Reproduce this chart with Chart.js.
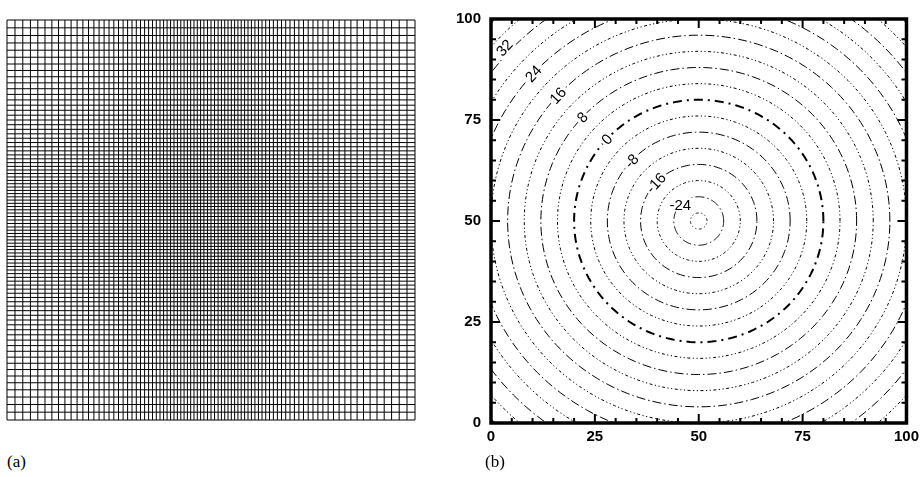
<!DOCTYPE html>
<html>
<head>
<meta charset="utf-8">
<script src="https://cdn.jsdelivr.net/npm/chart.js@4/dist/chart.umd.min.js"></script>
<style>
  html, body { margin: 0; padding: 0; background: #fff; }
  body { width: 924px; height: 477px; position: relative; overflow: hidden; }
  .box { position: absolute; }
  .tag { position: absolute; font-family: "Liberation Serif", "DejaVu Serif", serif; font-size: 17px; color: #000; }
</style>
</head>
<body>
<div class="box" style="left:5px; top:18px; width:412px; height:404px;"><canvas id="mesh" width="412" height="404"></canvas></div>
<div class="box" style="left:440px; top:0px; width:484px; height:477px;"><canvas id="cont" width="484" height="477"></canvas></div>
<div class="tag" style="left:7px; top:452px;">(a)</div>
<div class="tag" style="left:485px; top:452px;">(b)</div>
<script>
// ---------- data ----------
// (a) mesh line positions (0..100 across the panel), clustered towards the centre
const xMesh = [0,1.96,3.87,5.74,7.55,9.31,11.0,12.62,14.19,15.71,17.18,18.6,19.98,21.3,22.57,23.8,25.0,26.18,27.33,28.46,29.56,30.64,31.69,32.72,33.73,34.71,35.66,36.59,37.5,38.38,39.24,40.1,40.93,41.76,42.6,43.4,44.21,45.02,45.83,46.64,47.45,48.26,49.13,50,50.87,51.74,52.55,53.36,54.17,54.98,55.79,56.6,57.4,58.24,59.07,59.9,60.76,61.62,62.5,63.41,64.34,65.29,66.27,67.28,68.31,69.36,70.44,71.54,72.67,73.82,75.0,76.2,77.43,78.7,80.02,81.4,82.82,84.29,85.81,87.38,89.0,90.69,92.45,94.26,96.13,98.04,100];
const yMesh = [0,1.96,3.87,5.74,7.55,9.31,11.0,12.62,14.19,15.71,17.18,18.6,19.98,21.3,22.57,23.8,25.0,26.18,27.33,28.46,29.56,30.64,31.69,32.72,33.73,34.71,35.66,36.59,37.5,38.38,39.24,40.1,40.93,41.76,42.6,43.4,44.21,45.02,45.83,46.64,47.45,48.26,49.13,50,50.87,51.74,52.55,53.36,54.17,54.98,55.79,56.6,57.4,58.24,59.07,59.9,60.76,61.62,62.5,63.41,64.34,65.29,66.27,67.28,68.31,69.36,70.44,71.54,72.67,73.82,75.0,76.2,77.43,78.7,80.02,81.4,82.82,84.29,85.81,87.38,89.0,90.69,92.45,94.26,96.13,98.04,100];

// (b) contour field: circles round the centre, level 0 at radius 30
const contourLevels = [-28,-24,-20,-16,-12,-8,-4,0,4,8,12,16,20,24,28,32,36,40];
const labeledLevels = [32,24,16,8,0,-8,-16,-24];
const centreXY = [50,50];
const zeroRadius = 30;
const labelAngleDeg = 137.5;
const axisTicks = [0,25,50,75,100];

// ---------- panel (a) ----------
const meshSets = [];
xMesh.forEach(v => meshSets.push({data:[{x:v,y:0},{x:v,y:100}]}));
yMesh.forEach(v => meshSets.push({data:[{x:0,y:v},{x:100,y:v}]}));
meshSets.forEach(d => Object.assign(d, {showLine:true, pointRadius:0, borderColor:'#000', borderWidth:1, clip:false}));

new Chart(document.getElementById('mesh'), {
  type: 'scatter',
  data: { datasets: meshSets },
  options: {
    responsive:false, animation:false, devicePixelRatio:1,
    layout:{padding:2},
    plugins:{legend:{display:false}, tooltip:{enabled:false}},
    scales:{
      x:{type:'linear', min:0, max:100, display:false},
      y:{type:'linear', min:0, max:100, display:false}
    }
  }
});

// ---------- panel (b) ----------
const contSets = contourLevels.map(lv => {
  const r = lv + zeroRadius;
  const pts = [];
  for (let a = 0; a <= 360; a += 2) {
    const t = a * Math.PI / 180;
    pts.push({x: centreXY[0] + r*Math.cos(t), y: centreXY[1] + r*Math.sin(t)});
  }
  let dash, w;
  if (lv === 0) { dash = [9,5,2,5]; w = 2; }
  else if (lv % 8 === 0) { dash = [9,3,1.5,3]; w = 1; }
  else { dash = [3,2.5,1.2,2.5,1.2,2.5]; w = 1; }
  return {data:pts, showLine:true, pointRadius:0, borderColor:'#000', borderWidth:w, borderDash:dash};
});

const FONT = '"Liberation Sans", Arial, Helvetica, sans-serif';

const decor = {
  id:'decor',
  afterDatasetsDraw(chart) {
    const ctx = chart.ctx, xs = chart.scales.x, ys = chart.scales.y;
    const th = labelAngleDeg * Math.PI / 180;
    ctx.save();
    ctx.font = '15px ' + FONT;
    ctx.textAlign = 'center';
    ctx.textBaseline = 'middle';
    labeledLevels.forEach(lv => {
      const r = lv + zeroRadius + (lv === 32 ? 1.5 : 0);
      const px = xs.getPixelForValue(centreXY[0] + r*Math.cos(th));
      const py = ys.getPixelForValue(centreXY[1] + r*Math.sin(th));
      const rot = lv === -24 ? 0 : -(labelAngleDeg - 90) * Math.PI / 180;
      const txt = String(lv);
      const w = ctx.measureText(txt).width;
      ctx.save();
      ctx.translate(px, py);
      ctx.rotate(rot);
      ctx.fillStyle = '#fff';
      ctx.fillRect(-w/2 - 2, -7, w + 4, 14);
      ctx.fillStyle = '#000';
      ctx.fillText(txt, 0, 1);
      ctx.restore();
    });
    ctx.restore();
  },
  afterDraw(chart) {
    const ctx = chart.ctx, a = chart.chartArea, xs = chart.scales.x, ys = chart.scales.y;
    ctx.save();
    ctx.strokeStyle = '#000';
    ctx.lineWidth = 2;
    for (let v = 0; v <= 100; v += 5) {
      const len = axisTicks.includes(v) ? 9 : 5;
      const px = xs.getPixelForValue(v), py = ys.getPixelForValue(v);
      ctx.beginPath();
      ctx.moveTo(px, a.bottom); ctx.lineTo(px, a.bottom - len);
      ctx.moveTo(px, a.top); ctx.lineTo(px, a.top + len);
      ctx.moveTo(a.left, py); ctx.lineTo(a.left + len, py);
      ctx.moveTo(a.right, py); ctx.lineTo(a.right - len, py);
      ctx.stroke();
    }
    ctx.lineWidth = 3.5;
    ctx.strokeRect(a.left, a.top, a.right - a.left, a.bottom - a.top);
    ctx.restore();
  }
};

new Chart(document.getElementById('cont'), {
  type: 'scatter',
  data: { datasets: contSets },
  options: {
    responsive:false, animation:false, devicePixelRatio:1,
    layout:{padding:{top:13, right:16, left:0, bottom:0}},
    plugins:{legend:{display:false}, tooltip:{enabled:false}},
    scales:{
      x:{type:'linear', min:0, max:100,
         afterBuildTicks: s => { s.ticks = axisTicks.map(v => ({value:v})); },
         afterFit: s => { s.height = 54; },
         grid:{display:false, drawTicks:false}, border:{display:false},
         ticks:{color:'#000', padding:5, maxRotation:0, font:{family:FONT, size:15, weight:'bold'}}},
      y:{type:'linear', min:0, max:100,
         afterBuildTicks: s => { s.ticks = axisTicks.map(v => ({value:v})); },
         afterFit: s => { s.width = 51; },
         grid:{display:false, drawTicks:false}, border:{display:false},
         ticks:{color:'#000', padding:10, font:{family:FONT, size:15, weight:'bold'}}}
    }
  },
  plugins:[decor]
});
</script>
</body>
</html>
